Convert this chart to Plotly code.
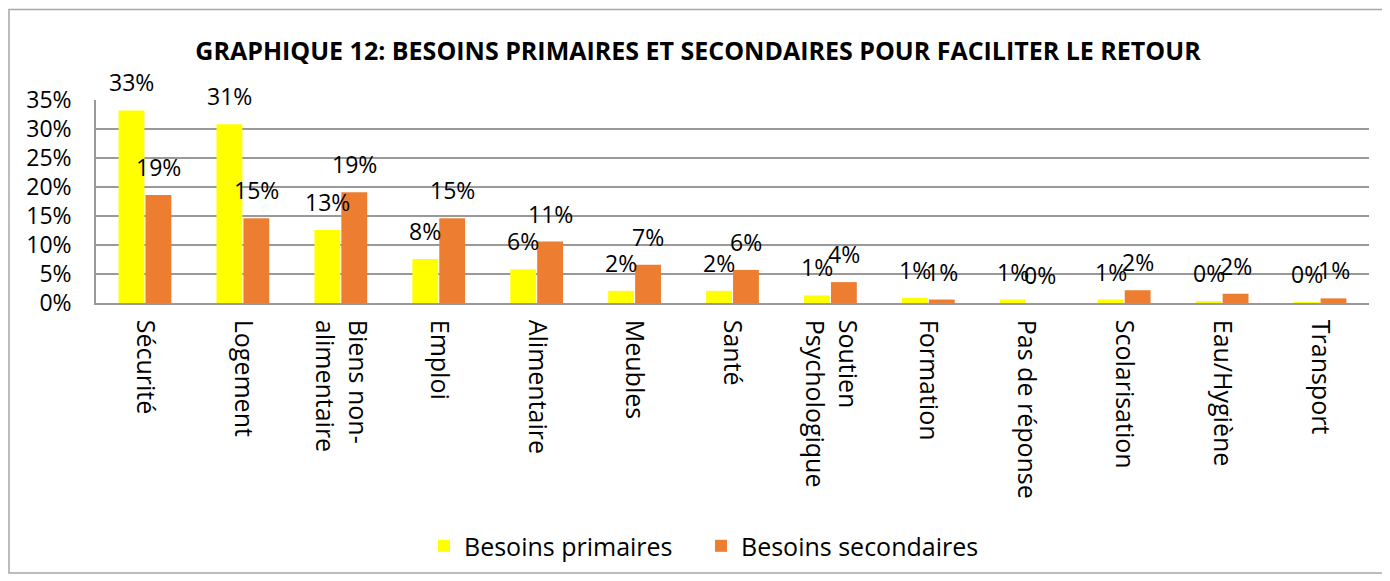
import plotly.graph_objects as go

categories = ["Sécurité", "Logement", "Biens non-<br>alimentaire", "Emploi", "Alimentaire",
              "Meubles", "Santé", "Soutien<br>Psychologique", "Formation", "Pas de réponse",
              "Scolarisation", "Eau/Hygiène", "Transport"]
primaires = [33.2, 30.8, 12.6, 7.6, 5.8, 2.1, 2.1, 1.3, 0.9, 0.6, 0.6, 0.3, 0.1]
secondaires = [18.6, 14.6, 19.1, 14.6, 10.6, 6.6, 5.7, 3.6, 0.6, 0.0, 2.2, 1.6, 0.8]
series_names = ["Besoins primaires", "Besoins secondaires"]
y_ticks = [0, 5, 10, 15, 20, 25, 30, 35]

YELLOW = "#FFFF00"
ORANGE = "#ED7D31"
GRID = "#999999"
FONT = "Open Sans"

# page body has an 8px margin: work in reference pixel coords minus 8
OFF = 8
FW, FH = 1390 - OFF, 581 - OFF

fig = go.Figure()
fig.add_trace(go.Bar(x=categories, y=primaires, name=series_names[0],
                     marker=dict(color=YELLOW, line=dict(width=0))))
fig.add_trace(go.Bar(x=categories, y=secondaires, name=series_names[1],
                     marker=dict(color=ORANGE, line=dict(width=0))))

annotations = []
for vals, shift in ((primaires, -13.5), (secondaires, 13.5)):
    for c, v in zip(categories, vals):
        annotations.append(dict(x=c, y=v, xref="x", yref="y", text=f"{v:.0f}%",
                                showarrow=False, xshift=shift, yshift=28,
                                yanchor="middle", xanchor="center",
                                font=dict(family=FONT, size=23, color="#000000")))

L, R, T, B = 96 - OFF, 1369 - OFF, 99.5 - OFF, 302.7 - OFF
H = B - T
W = R - L
shapes = [dict(type="rect", xref="paper", yref="paper",
               x0=(1 - L) / W, x1=(FW - 7 - L) / W,
               y0=(B - (573 - OFF)) / H, y1=(B - (9 - OFF)) / H,
               line=dict(color="#a6a6a6", width=1.5), fillcolor="rgba(0,0,0,0)", layer="below")]

fig.update_layout(
    width=FW, height=FH,
    margin=dict(l=L, r=FW - R, t=T, b=FH - B),
    paper_bgcolor="white", plot_bgcolor="white",
    barmode="group", bargap=0.45, bargroupgap=0.04,
    title=dict(text="<b>GRAPHIQUE 12: BESOINS PRIMAIRES ET SECONDAIRES POUR FACILITER LE RETOUR</b>",
               x=(698 - OFF) / FW, xanchor="center", y=1 - (51 - OFF) / FH, yanchor="middle",
               yref="container", xref="container",
               font=dict(family=FONT, size=25, color="#000000")),
    font=dict(family=FONT, color="#000000"),
    legend=dict(orientation="h", x=(424 - OFF - L) / W, xanchor="left",
                y=(B - (546 - OFF)) / H, yanchor="middle",
                font=dict(family=FONT, size=25, color="#000000"), itemwidth=30,
                entrywidth=232, entrywidthmode="pixels",
                tracegroupgap=0, traceorder="normal"),
    annotations=annotations,
    shapes=shapes,
)
fig.update_xaxes(showline=True, linecolor=GRID, linewidth=1.5, tickangle=90, ticks="",
                 tickfont=dict(family=FONT, size=25, color="#000000"), ticklabelstandoff=10,
                 showgrid=False)
fig.update_yaxes(range=[0, 35], tickvals=y_ticks, ticktext=[f"{t}%" for t in y_ticks],
                 showline=True, linecolor=GRID, linewidth=1.5, showgrid=True, gridcolor=GRID,
                 gridwidth=1.5, ticks="", tickfont=dict(family=FONT, size=23, color="#000000"),
                 ticklabelstandoff=18, zeroline=False)

fig.write_html("out.html")
